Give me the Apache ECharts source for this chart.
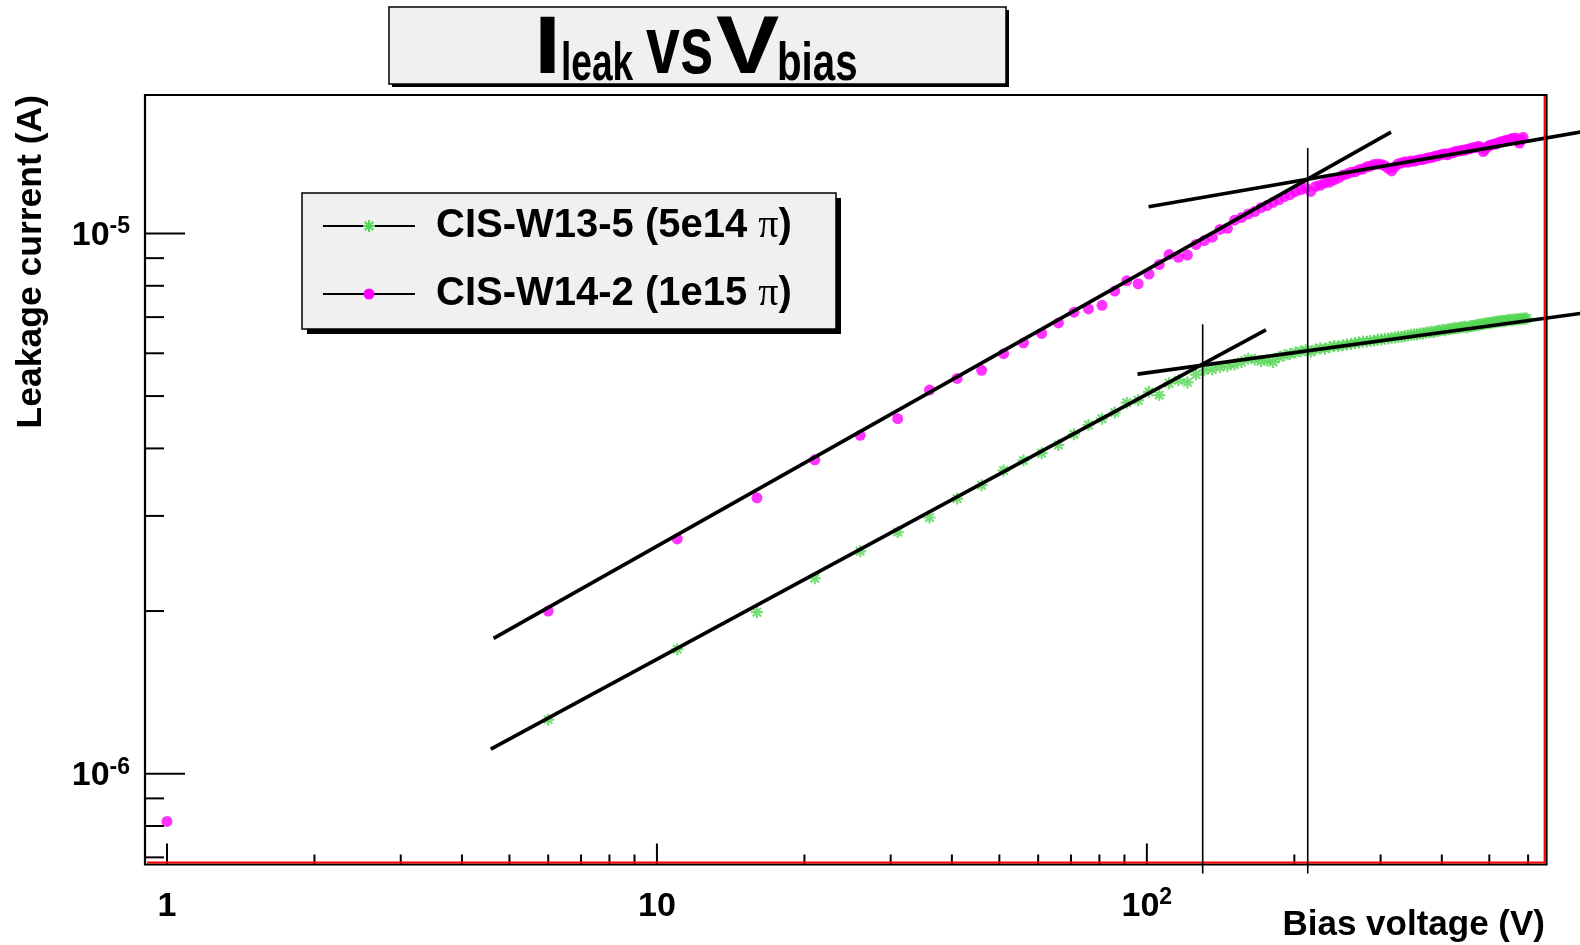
<!DOCTYPE html>
<html>
<head>
<meta charset="utf-8">
<script src="https://cdn.jsdelivr.net/npm/echarts@6/dist/echarts.min.js"></script>
<style>
  html, body { margin: 0; padding: 0; background: #fff; }
  #chart { width: 1580px; height: 945px; }
</style>
</head>
<body>
<div id="chart"></div>
<script>
// ---- Measurements: bias voltage (V) and leakage current (uA) ----
const voltW14 = [
  1, 6, 11, 16, 21, 26, 31, 36, 41, 46, 51, 56, 61, 66, 71, 76, 81, 86, 91, 96,
  101, 106, 111, 116, 121, 126, 131, 136, 141, 146, 151, 156, 161, 166, 171, 176, 181, 186, 191, 196,
  201, 206, 211, 216, 221, 226, 231, 236, 241, 246, 251, 256, 261, 266, 271, 276, 281, 286, 291, 296,
  301, 306, 311, 316, 321, 326, 331, 336, 341, 346, 351, 356, 361, 366, 371, 376, 381, 386, 391, 396,
  401, 406, 411, 416, 421, 426, 431, 436, 441, 446, 451, 456, 461, 466, 471, 476, 481, 486, 491, 496,
  501, 506, 511, 516, 521, 526, 531, 536, 541, 546, 551, 556, 561, 566, 571, 576, 581, 586
];
const currW14 = [
  0.816, 2.00, 2.72, 3.24, 3.81, 4.23, 4.54, 5.13, 5.39, 5.58, 5.99, 6.27, 6.53, 6.83, 7.15, 7.25, 7.36, 7.82, 8.17, 8.07,
  8.41, 8.76, 9.14, 9.03, 9.12, 9.54, 9.70, 9.84, 10.17, 10.22, 10.58, 10.70, 10.86, 10.98, 11.16, 11.26, 11.42, 11.54, 11.70, 11.80,
  11.96, 12.04, 12.14, 11.96, 12.22, 12.28, 12.40, 12.44, 12.56, 12.66, 12.82, 12.88, 12.98, 13.00, 13.12, 13.16, 13.28, 13.32, 13.42, 13.44,
  13.42, 13.34, 13.20, 13.05, 13.30, 13.46, 13.50, 13.58, 13.54, 13.62, 13.60, 13.66, 13.70, 13.70, 13.76, 13.80, 13.82, 13.88, 13.92, 13.96,
  14.02, 14.04, 13.98, 14.08, 14.10, 14.18, 14.20, 14.22, 14.26, 14.26, 14.32, 14.34, 14.40, 14.42, 14.44, 14.50, 14.40, 14.18, 14.34, 14.48,
  14.56, 14.58, 14.64, 14.64, 14.70, 14.76, 14.78, 14.82, 14.88, 14.86, 14.92, 14.98, 14.96, 15.02, 14.86, 14.70, 14.90, 15.06
];
const voltW13 = [
  6, 11, 16, 21, 26, 31, 36, 41, 46, 51, 56, 61, 66, 71, 76, 81, 86, 91, 96,
  101, 106, 111, 116, 121, 126, 131, 136, 141, 146, 151, 156, 161, 166, 171, 176, 181, 186, 191, 196,
  201, 206, 211, 216, 221, 226, 231, 236, 241, 246, 251, 256, 261, 266, 271, 276, 281, 286, 291, 296,
  301, 306, 311, 316, 321, 326, 331, 336, 341, 346, 351, 356, 361, 366, 371, 376, 381, 386, 391, 396,
  401, 406, 411, 416, 421, 426, 431, 436, 441, 446, 451, 456, 461, 466, 471, 476, 481, 486, 491, 496,
  501, 506, 511, 516, 521, 526, 531, 536, 541, 546, 551, 556, 561, 566, 571, 576, 581, 586, 591, 596
];
const currW13 = [
  1.259, 1.70, 1.99, 2.30, 2.58, 2.80, 2.98, 3.23, 3.42, 3.64, 3.80, 3.92, 4.06, 4.25, 4.42, 4.54, 4.66, 4.86, 4.91,
  5.09, 5.02, 5.28, 5.35, 5.30, 5.48, 5.58, 5.60, 5.66, 5.68, 5.72, 5.78, 5.86, 5.84, 5.80, 5.82, 5.78, 5.90, 5.95, 5.98,
  6.02, 6.05, 6.08, 6.04, 6.10, 6.13, 6.12, 6.16, 6.19, 6.18, 6.21, 6.23, 6.24, 6.27, 6.28, 6.31, 6.30, 6.33, 6.33, 6.36,
  6.36, 6.38, 6.39, 6.41, 6.42, 6.44, 6.43, 6.46, 6.47, 6.49, 6.50, 6.50, 6.53, 6.53, 6.55, 6.56, 6.58, 6.57, 6.60, 6.61,
  6.63, 6.62, 6.65, 6.65, 6.67, 6.68, 6.68, 6.70, 6.71, 6.72, 6.70, 6.73, 6.74, 6.75, 6.77, 6.78, 6.78, 6.80, 6.81, 6.82,
  6.83, 6.84, 6.85, 6.86, 6.87, 6.88, 6.89, 6.88, 6.90, 6.91, 6.92, 6.91, 6.93, 6.93, 6.94, 6.94, 6.95, 6.95, 6.96, 6.96
];

// ---- Straight-line fits in log-log space: [V, I(A)] end points ----
const fitW14Rise = [[4.64, 1.78e-6], [315, 1.54e-5]];
const fitW14Flat = [[100.8, 1.12e-5], [1000, 1.606e-5]];
const fitW13Rise = [[4.58, 1.11e-6], [175, 6.63e-6]];
const fitW13Flat = [[95.7, 5.49e-6], [1000, 7.35e-6]];
// Full-depletion voltages (fit crossings) and the current where each marker line starts
const depW14 = [213, 1.44e-5];
const depW13 = [130, 6.79e-6];

// ---- Axes ----
const X_MIN = 0.9018, X_MAX = 654.2;
const Y_MIN = 6.79e-7, Y_MAX = 1.804e-5;
const xMajorTicks = [1, 10, 100];
const xMinorTicks = [2, 3, 4, 5, 6, 7, 8, 9, 20, 30, 40, 50, 60, 70, 80, 90, 200, 300, 400, 500, 600];
const yMajorTicks = [1e-6, 1e-5];
const yMinorTicks = [7e-7, 8e-7, 9e-7, 2e-6, 3e-6, 4e-6, 5e-6, 6e-6, 7e-6, 8e-6, 9e-6];
const xTickLabels = [[1, '1', ''], [10, '10', ''], [100, '10', '2']];
const yTickLabels = [[1e-6, '10', '-6'], [1e-5, '10', '-5']];

const legendNames = ['CIS-W13-5 (5e14 ', 'CIS-W14-2 (1e15 '];

// ---- Layout / style ----
const GRID = { left: 145, top: 95, width: 1401.5, height: 769.5 };
const FONT = '"Liberation Sans", Arial, Helvetica, sans-serif';
const SERIF = '"Liberation Serif", "Times New Roman", serif';
const GREEN = '#55d655';
const MAGENTA = '#ff00ff';
const PANEL = '#f0f0f0';
const ASTERISK = 'path://M0 5L10 5M5 0L5 10M1.5 1.5L8.5 8.5M1.5 8.5L8.5 1.5';
const DEP_OVERSHOOT = 9; // marker lines run this many px below the frame

const uA = (v, i) => [v, i * 1e-6];
const pointsW14 = voltW14.map((v, k) => uA(v, currW14[k]));
const pointsW13 = voltW13.map((v, k) => uA(v, currW13[k]));

// straight fit segments [from, to]
const fitSegments = [fitW14Rise, fitW14Flat, fitW13Rise, fitW13Flat];
const depMarkers = [depW14, depW13];

function fitSeries() {
  return {
    type: 'custom', coordinateSystem: 'cartesian2d', silent: true, clip: false, z: 5,
    animation: false,
    data: fitSegments.map(s => [s[0][0], s[0][1], s[1][0], s[1][1]]),
    renderItem(params, api) {
      const a = api.coord([api.value(0), api.value(1)]);
      const b = api.coord([api.value(2), api.value(3)]);
      return {
        type: 'line',
        shape: { x1: a[0], y1: a[1], x2: b[0], y2: b[1] },
        style: { stroke: '#000', lineWidth: 3.6, lineCap: 'butt' }
      };
    }
  };
}

function tickSeries(values, axis, len) {
  return {
    type: 'custom', coordinateSystem: 'cartesian2d', silent: true, clip: false, z: 6,
    animation: false,
    data: values.map(v => axis === 'x' ? [v, Y_MIN] : [X_MIN, v]),
    renderItem(params, api) {
      const p = api.coord([api.value(0), api.value(1)]);
      const shape = axis === 'x'
        ? { x1: p[0], y1: p[1], x2: p[0], y2: p[1] - len }
        : { x1: p[0], y1: p[1], x2: p[0] + len, y2: p[1] };
      return { type: 'line', shape, style: { stroke: '#000', lineWidth: 2 } };
    }
  };
}

function labelSeries(labels, axis) {
  return {
    type: 'custom', coordinateSystem: 'cartesian2d', silent: true, clip: false, z: 6,
    animation: false,
    data: labels.map(l => axis === 'x' ? [l[0], Y_MIN] : [X_MIN, l[0]]),
    renderItem(params, api) {
      const item = labels[params.dataIndex];
      const p = api.coord([api.value(0), api.value(1)]);
      const text = item[2] ? '{b|' + item[1] + '}{s|' + item[2] + '}' : '{b|' + item[1] + '}';
      return {
        type: 'text',
        style: {
          text,
          x: axis === 'x' ? p[0] : p[0] - 15,
          y: axis === 'x' ? p[1] + 42 : p[1] + 2,
          align: axis === 'x' ? 'center' : 'right',
          verticalAlign: 'middle',
          rich: {
            b: { fontFamily: FONT, fontWeight: 'bold', fontSize: 34, fill: '#000', lineHeight: 40 },
            s: { fontFamily: FONT, fontWeight: 'bold', fontSize: 23, fill: '#000', verticalAlign: 'top', lineHeight: 26 }
          }
        }
      };
    }
  };
}

const chart = echarts.init(document.getElementById('chart'), null, { renderer: 'canvas' });

const gl = GRID.left, gt = GRID.top, gr = GRID.left + GRID.width, gb = GRID.top + GRID.height;

// title panel and legend panel
const titleBox = { x: 389, y: 7, w: 617, h: 77 };
const legendBox = { x: 302, y: 193, w: 534, h: 136 };
const legendRows = [226, 294];
const legendMarkX = 369;

function titlePart(text, x, y, size, sx) {
  return { type: 'text', z: 22, x, y, scaleX: sx,
    style: { text, font: 'bold ' + size + 'px ' + FONT, fill: '#000', verticalAlign: 'bottom' } };
}

const asteriskLegend = [[-6, 0, 6, 0], [0, -6, 0, 6], [-4.3, -4.3, 4.3, 4.3], [-4.3, 4.3, 4.3, -4.3]].map(d => ({
  type: 'line', z: 24,
  shape: { x1: legendMarkX + d[0], y1: legendRows[0] + d[1], x2: legendMarkX + d[2], y2: legendRows[0] + d[3] },
  style: { stroke: GREEN, lineWidth: 2 }
}));

const legendRich = {
  t: { font: 'bold 40px ' + FONT, fill: '#000' },
  p: { font: '40px ' + SERIF, fill: '#000' }
};

const staticGraphic = [
  // red frame edge on the bottom and right
  { type: 'polyline', z: 20, silent: true,
    shape: { points: [[gl + 2, gb - 2], [gr - 2, gb - 2], [gr - 2, gt + 1]] },
    style: { stroke: '#ff0000', lineWidth: 1.8, fill: null } },
  // title panel
  { type: 'rect', z: 20, shape: { x: titleBox.x + 3, y: titleBox.y + 3, width: titleBox.w, height: titleBox.h },
    style: { fill: '#000' } },
  { type: 'rect', z: 21, shape: { x: titleBox.x, y: titleBox.y, width: titleBox.w, height: titleBox.h },
    style: { fill: PANEL, stroke: '#000', lineWidth: 1.5 } },
  titlePart('I', 534, 91, 81, 1.2),
  titlePart('leak', 561, 91.5, 53, 0.70),
  titlePart('vs', 646, 91, 81, 0.75),
  titlePart('V', 716, 91, 81, 1.17),
  titlePart('bias', 777, 91.5, 53, 0.76),
  // legend panel
  { type: 'rect', z: 20, shape: { x: legendBox.x + 5, y: legendBox.y + 5, width: legendBox.w, height: legendBox.h },
    style: { fill: '#000' } },
  { type: 'rect', z: 21, shape: { x: legendBox.x, y: legendBox.y, width: legendBox.w, height: legendBox.h },
    style: { fill: PANEL, stroke: '#000', lineWidth: 1.5 } },
  { type: 'line', z: 22, shape: { x1: 323, y1: legendRows[0], x2: 415, y2: legendRows[0] }, style: { stroke: '#000', lineWidth: 1.8 } },
  { type: 'line', z: 22, shape: { x1: 323, y1: legendRows[1], x2: 415, y2: legendRows[1] }, style: { stroke: '#000', lineWidth: 1.8 } },
  ...asteriskLegend,
  { type: 'circle', z: 24, shape: { cx: legendMarkX, cy: legendRows[1], r: 5.5 }, style: { fill: MAGENTA } },
  { type: 'text', z: 23, x: 436, y: legendRows[0], style: {
    text: '{t|' + legendNames[0] + '}{p|π}{t|)}', verticalAlign: 'middle', rich: legendRich } },
  { type: 'text', z: 23, x: 436, y: legendRows[1], style: {
    text: '{t|' + legendNames[1] + '}{p|π}{t|)}', verticalAlign: 'middle', rich: legendRich } },
  // axis titles
  { type: 'text', z: 22, x: 1545, y: 925, style: {
    text: 'Bias voltage (V)', font: 'bold 35px ' + FONT, fill: '#000', align: 'right', verticalAlign: 'middle' } },
  { type: 'text', z: 22, x: 31, y: 95, rotation: Math.PI / 2, style: {
    text: 'Leakage current (A)', font: 'bold 35.5px ' + FONT, fill: '#000', align: 'right', verticalAlign: 'middle' } }
];

chart.setOption({
  animation: false,
  backgroundColor: '#fff',
  grid: { left: GRID.left, top: GRID.top, width: GRID.width, height: GRID.height,
          show: true, borderColor: '#000', borderWidth: 2.2, backgroundColor: 'transparent' },
  xAxis: {
    type: 'log', logBase: 10, min: X_MIN, max: X_MAX,
    axisLine: { show: false }, axisTick: { show: false }, axisLabel: { show: false },
    splitLine: { show: false }, minorTick: { show: false }, minorSplitLine: { show: false }
  },
  yAxis: {
    type: 'log', logBase: 10, min: Y_MIN, max: Y_MAX,
    axisLine: { show: false }, axisTick: { show: false }, axisLabel: { show: false },
    splitLine: { show: false }, minorTick: { show: false }, minorSplitLine: { show: false }
  },
  series: [
    {
      name: 'CIS-W13-5', type: 'scatter', data: pointsW13, z: 3,
      symbol: ASTERISK, symbolSize: 12,
      itemStyle: { color: 'rgba(0,0,0,0)', borderColor: GREEN, borderWidth: 2.2 }
    },
    {
      name: 'CIS-W14-2', type: 'scatter', data: pointsW14, z: 3,
      symbol: 'circle', symbolSize: 11,
      itemStyle: { color: MAGENTA }
    },
    fitSeries(),
    tickSeries(xMajorTicks, 'x', 21),
    tickSeries(xMinorTicks, 'x', 10),
    tickSeries(yMajorTicks, 'y', 40),
    tickSeries(yMinorTicks, 'y', 19),
    labelSeries(xTickLabels, 'x'),
    labelSeries(yTickLabels, 'y')
  ]
});

// depletion-voltage marker lines, placed through the grid's own scales
const depGraphic = depMarkers.map(d => {
  const top = chart.convertToPixel({ gridIndex: 0 }, d);
  const bottom = chart.convertToPixel({ gridIndex: 0 }, [d[0], Y_MIN]);
  return {
    type: 'line', z: 25, silent: true,
    shape: { x1: top[0], y1: top[1], x2: bottom[0], y2: bottom[1] + DEP_OVERSHOOT },
    style: { stroke: '#000', lineWidth: 1.6, lineCap: 'butt' }
  };
});

chart.setOption({ graphic: staticGraphic.concat(depGraphic) });
</script>
</body>
</html>
